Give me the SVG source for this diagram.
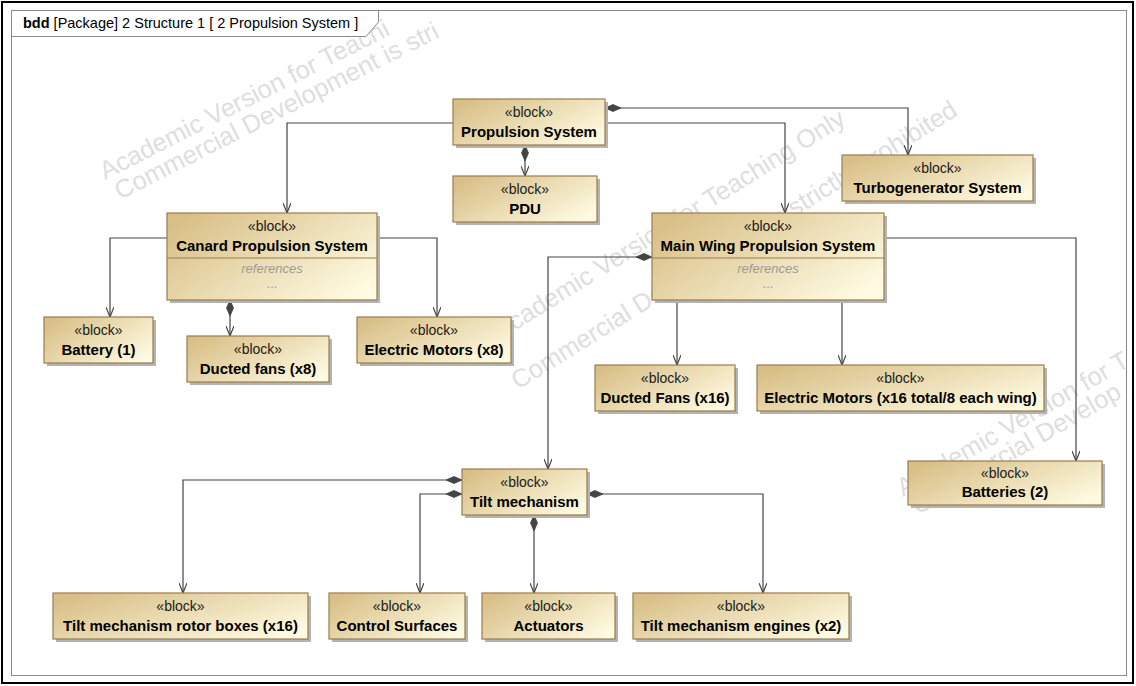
<svg xmlns="http://www.w3.org/2000/svg" width="1136" height="686" viewBox="0 0 1136 686">
<style>
.frame{fill:#ffffff;stroke:#000000;stroke-width:2}
.inner{fill:none;stroke:#8a8a8a;stroke-width:1}
.tab{fill:#ffffff;stroke:#8a8a8a;stroke-width:1}
.hdr{font-family:"Liberation Sans",Arial,sans-serif;font-size:14.5px;fill:#000}
.wm{font-family:"Liberation Sans",Arial,sans-serif;font-size:25.5px;fill:#dedede}
.box{fill:url(#blk);stroke:#9c7c4c;stroke-width:1.2}
.sh{fill:#b4b4b4}
.st{font-family:"Liberation Sans",Arial,sans-serif;font-size:14px;fill:#1a1a1a;text-anchor:middle}
.nm{font-family:"Liberation Sans",Arial,sans-serif;font-size:15px;font-weight:bold;fill:#000;text-anchor:middle}
.ref{font-family:"Liberation Sans",Arial,sans-serif;font-size:13px;font-style:italic;fill:#9a9a9a;text-anchor:middle}
.dots{font-family:"Liberation Sans",Arial,sans-serif;font-size:13px;fill:#9a9a9a;text-anchor:middle}
.div{stroke:#9c7c4c;stroke-width:1}
.c{fill:none;stroke:#444444;stroke-width:1.2;marker-end:url(#arr)}
.cd{fill:none;stroke:#444444;stroke-width:1.2;marker-start:url(#dia);marker-end:url(#arr)}
</style>
<defs>
<linearGradient id="blk" x1="0" y1="0.2" x2="1" y2="0.8">
<stop offset="0" stop-color="#d8bf87"/>
<stop offset="1" stop-color="#fffbe2"/>
</linearGradient>
<marker id="arr" viewBox="0 0 10 8" refX="10" refY="4" markerWidth="10" markerHeight="8" markerUnits="userSpaceOnUse" orient="auto">
<path d="M0,0 L10,4 L0,8" fill="none" stroke="#444444" stroke-width="1.2"/>
</marker>
<marker id="dia" viewBox="0 0 16 8" refX="0" refY="4" markerWidth="16" markerHeight="8" markerUnits="userSpaceOnUse" orient="auto">
<path d="M0,4 L8,0.5 L16,4 L8,7.5 Z" fill="#444444" stroke="#444444" stroke-width="0.8"/>
</marker>
</defs>

<rect class="frame" x="2" y="2" width="1131" height="681"/>
<rect class="inner" x="11.5" y="10.5" width="1115" height="665"/>

<g id="watermark">
<text class="wm" transform="translate(105,180) rotate(-27)">Academic Version for Teachi</text>
<text class="wm" transform="translate(120,200) rotate(-27)">Commercial Development is stri</text>
<text class="wm" transform="translate(500,340) rotate(-32)">Academic Version for Teaching Only</text>
<text class="wm" transform="translate(518,390) rotate(-32)">Commercial Development is strictly Prohibited</text>
<text class="wm" transform="translate(903,497) rotate(-30)">Academic Version for T</text>
<text class="wm" transform="translate(918,515) rotate(-30)">Commercial Develop</text>
</g>

<g id="header">
<path class="tab" d="M11.5,10.5 H378.5 V22 L366,36.5 H11.5 Z"/>
<text class="hdr" x="23" y="28"><tspan font-weight="bold">bdd</tspan> [Package] 2 Structure 1 [ 2 Propulsion System ]</text>
</g>

<g id="connectors">
<path class="c" d="M453,123 H287 V213"/>
<path class="c" d="M605,123 H785 V213"/>
<path class="cd" d="M605,108 H908 V155"/>
<path class="cd" d="M525,145 V176"/>
<path class="c" d="M167,238 H110 V317"/>
<path class="cd" d="M230,300 V336"/>
<path class="c" d="M377,238 H437 V317"/>
<path class="c" d="M677,300 V365"/>
<path class="c" d="M842,300 V365"/>
<path class="c" d="M884,238 H1076 V461"/>
<path class="cd" d="M652,257 H548 V469"/>
<path class="cd" d="M462,480 H183 V593"/>
<path class="cd" d="M462,494 H420 V593"/>
<path class="cd" d="M534,515 V593"/>
<path class="cd" d="M587,494 H763 V593"/>
</g>

<g id="propulsion-system">
<rect class="sh" x="456" y="102" width="152" height="46"/>
<rect class="box" x="453" y="99" width="152" height="46"/>
<text class="st" x="529" y="117">«block»</text>
<text class="nm" x="529" y="137">Propulsion System</text>
</g>

<g id="pdu">
<rect class="sh" x="456" y="179" width="144" height="46"/>
<rect class="box" x="453" y="176" width="144" height="46"/>
<text class="st" x="525" y="194">«block»</text>
<text class="nm" x="525" y="214">PDU</text>
</g>

<g id="turbogenerator-system">
<rect class="sh" x="845" y="158" width="191" height="46"/>
<rect class="box" x="842" y="155" width="191" height="46"/>
<text class="st" x="937.5" y="173">«block»</text>
<text class="nm" x="937.5" y="193">Turbogenerator System</text>
</g>

<g id="canard-propulsion-system">
<rect class="sh" x="170" y="216" width="210" height="87"/>
<rect class="box" x="167" y="213" width="210" height="87"/>
<line class="div" x1="167" y1="258" x2="377" y2="258"/>
<text class="st" x="272" y="231">«block»</text>
<text class="nm" x="272" y="251">Canard Propulsion System</text>
<text class="ref" x="272" y="273">references</text>
<text class="dots" x="272" y="288">...</text>
</g>

<g id="main-wing-propulsion-system">
<rect class="sh" x="655" y="216" width="232" height="87"/>
<rect class="box" x="652" y="213" width="232" height="87"/>
<line class="div" x1="652" y1="258" x2="884" y2="258"/>
<text class="st" x="768" y="231">«block»</text>
<text class="nm" x="768" y="251">Main Wing Propulsion System</text>
<text class="ref" x="768" y="273">references</text>
<text class="dots" x="768" y="288">...</text>
</g>

<g id="battery-1">
<rect class="sh" x="47" y="320" width="109" height="46"/>
<rect class="box" x="44" y="317" width="109" height="46"/>
<text class="st" x="98.5" y="335">«block»</text>
<text class="nm" x="98.5" y="355">Battery (1)</text>
</g>

<g id="ducted-fans-x8">
<rect class="sh" x="190" y="339" width="142" height="46"/>
<rect class="box" x="187" y="336" width="142" height="46"/>
<text class="st" x="258" y="354">«block»</text>
<text class="nm" x="258" y="374">Ducted fans (x8)</text>
</g>

<g id="electric-motors-x8">
<rect class="sh" x="360" y="320" width="154" height="46"/>
<rect class="box" x="357" y="317" width="154" height="46"/>
<text class="st" x="434" y="335">«block»</text>
<text class="nm" x="434" y="355">Electric Motors (x8)</text>
</g>

<g id="ducted-fans-x16">
<rect class="sh" x="598" y="368" width="140" height="46"/>
<rect class="box" x="595" y="365" width="140" height="46"/>
<text class="st" x="665" y="383">«block»</text>
<text class="nm" x="665" y="403">Ducted Fans (x16)</text>
</g>

<g id="electric-motors-x16">
<rect class="sh" x="760" y="368" width="287" height="46"/>
<rect class="box" x="757" y="365" width="287" height="46"/>
<text class="st" x="900.5" y="383">«block»</text>
<text class="nm" x="900.5" y="403">Electric Motors (x16 total/8 each wing)</text>
</g>

<g id="batteries-2">
<rect class="sh" x="911" y="464" width="194" height="44"/>
<rect class="box" x="908" y="461" width="194" height="44"/>
<text class="st" x="1005" y="478">«block»</text>
<text class="nm" x="1005" y="497">Batteries (2)</text>
</g>

<g id="tilt-mechanism">
<rect class="sh" x="465" y="472" width="125" height="46"/>
<rect class="box" x="462" y="469" width="125" height="46"/>
<text class="st" x="524.5" y="487">«block»</text>
<text class="nm" x="524.5" y="507">Tilt mechanism</text>
</g>

<g id="tilt-mechanism-rotor-boxes">
<rect class="sh" x="56" y="596" width="255" height="46"/>
<rect class="box" x="53" y="593" width="255" height="46"/>
<text class="st" x="180.5" y="611">«block»</text>
<text class="nm" x="180.5" y="631">Tilt mechanism rotor boxes (x16)</text>
</g>

<g id="control-surfaces">
<rect class="sh" x="332" y="596" width="136" height="46"/>
<rect class="box" x="329" y="593" width="136" height="46"/>
<text class="st" x="397" y="611">«block»</text>
<text class="nm" x="397" y="631">Control Surfaces</text>
</g>

<g id="actuators">
<rect class="sh" x="485" y="596" width="133" height="46"/>
<rect class="box" x="482" y="593" width="133" height="46"/>
<text class="st" x="548.5" y="611">«block»</text>
<text class="nm" x="548.5" y="631">Actuators</text>
</g>

<g id="tilt-mechanism-engines">
<rect class="sh" x="636" y="596" width="216" height="46"/>
<rect class="box" x="633" y="593" width="216" height="46"/>
<text class="st" x="741" y="611">«block»</text>
<text class="nm" x="741" y="631">Tilt mechanism engines (x2)</text>
</g>
</svg>
